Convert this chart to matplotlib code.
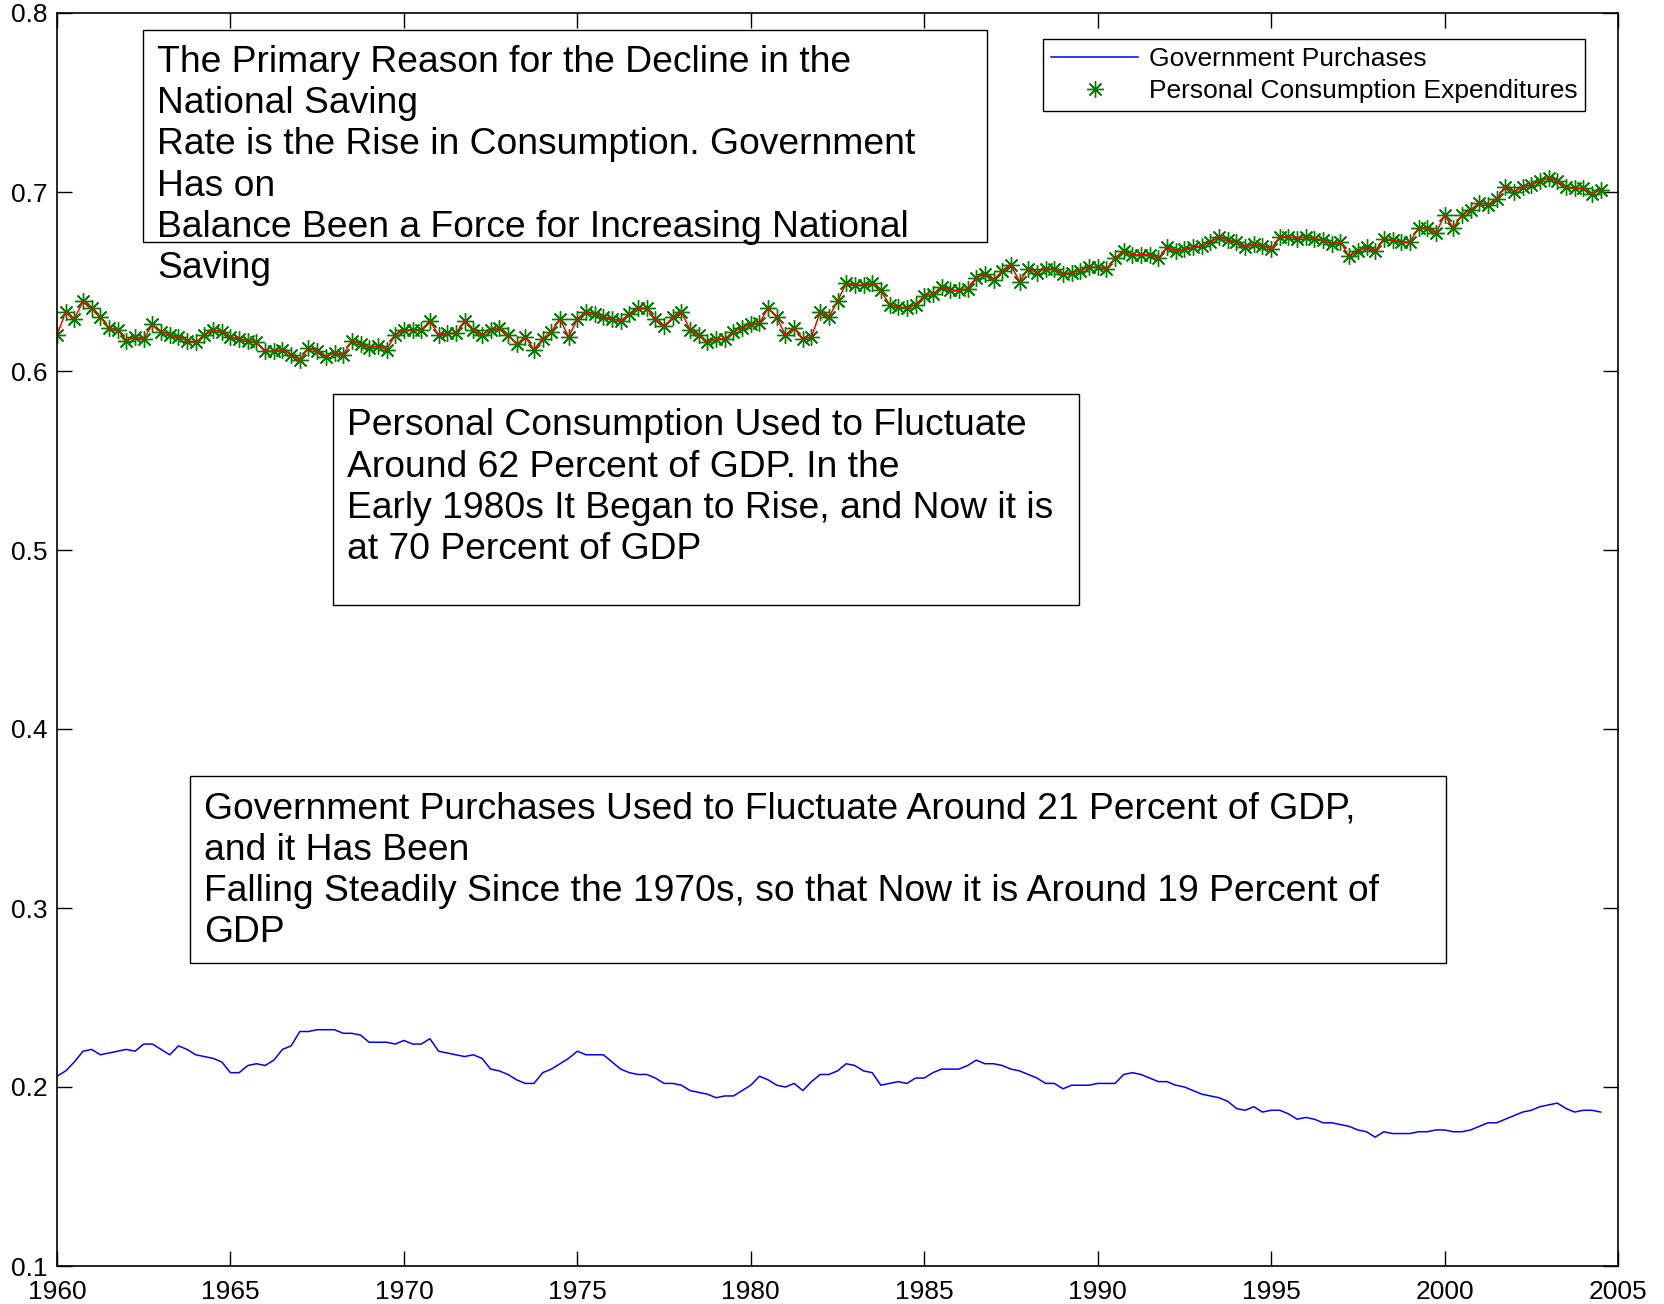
import matplotlib
matplotlib.use("Agg")
import matplotlib.pyplot as plt
from matplotlib.lines import Line2D
from matplotlib.patches import Rectangle
import numpy as np

# quarterly shares of GDP, 1960Q1 - 2004Q3
quarters = np.arange(1960, 2004.5 + 0.01, 0.25)

consumption = [
    0.620, 0.633, 0.629, 0.639, 0.635, 0.630, 0.624, 0.623, 0.617, 0.619,
    0.618, 0.626, 0.622, 0.620, 0.619, 0.617, 0.616, 0.620, 0.623, 0.622,
    0.619, 0.618, 0.617, 0.616, 0.611, 0.611, 0.612, 0.609, 0.606, 0.613,
    0.611, 0.608, 0.610, 0.609, 0.617, 0.615, 0.613, 0.614, 0.612, 0.620,
    0.623, 0.623, 0.623, 0.628, 0.620, 0.621, 0.621, 0.628, 0.623, 0.620,
    0.623, 0.624, 0.620, 0.615, 0.619, 0.612, 0.618, 0.622, 0.629, 0.619,
    0.629, 0.633, 0.632, 0.630, 0.629, 0.628, 0.632, 0.635, 0.635, 0.629,
    0.625, 0.630, 0.633, 0.623, 0.620, 0.616, 0.618, 0.618, 0.622, 0.624,
    0.626, 0.627, 0.635, 0.630, 0.620, 0.624, 0.618, 0.619, 0.633, 0.630,
    0.639, 0.649, 0.648, 0.648, 0.649, 0.645, 0.637, 0.636, 0.635, 0.637,
    0.642, 0.643, 0.647, 0.645, 0.645, 0.646, 0.652, 0.654, 0.651, 0.656,
    0.659, 0.650, 0.657, 0.655, 0.657, 0.657, 0.654, 0.655, 0.656, 0.658,
    0.658, 0.657, 0.663, 0.667, 0.665, 0.665, 0.665, 0.663, 0.669, 0.667,
    0.668, 0.669, 0.670, 0.672, 0.675, 0.673, 0.672, 0.669, 0.671, 0.670,
    0.668, 0.675, 0.675, 0.674, 0.675, 0.674, 0.673, 0.671, 0.672, 0.664,
    0.667, 0.669, 0.667, 0.674, 0.673, 0.672, 0.672, 0.680, 0.680, 0.677,
    0.687, 0.680, 0.687, 0.690, 0.694, 0.693, 0.696, 0.703, 0.700, 0.703,
    0.704, 0.706, 0.708, 0.706, 0.703, 0.702, 0.702, 0.699, 0.701,
]

government = [
    0.206, 0.209, 0.214, 0.220, 0.221, 0.218, 0.219, 0.220, 0.221, 0.220,
    0.224, 0.224, 0.221, 0.218, 0.223, 0.221, 0.218, 0.217, 0.216, 0.214,
    0.208, 0.208, 0.212, 0.213, 0.212, 0.215, 0.221, 0.223, 0.231, 0.231,
    0.232, 0.232, 0.232, 0.230, 0.230, 0.229, 0.225, 0.225, 0.225, 0.224,
    0.226, 0.224, 0.224, 0.227, 0.220, 0.219, 0.218, 0.217, 0.218, 0.216,
    0.210, 0.209, 0.207, 0.204, 0.202, 0.202, 0.208, 0.210, 0.213, 0.216,
    0.220, 0.218, 0.218, 0.218, 0.214, 0.210, 0.208, 0.207, 0.207, 0.205,
    0.202, 0.202, 0.201, 0.198, 0.197, 0.196, 0.194, 0.195, 0.195, 0.198,
    0.201, 0.206, 0.204, 0.201, 0.200, 0.202, 0.198, 0.203, 0.207, 0.207,
    0.209, 0.213, 0.212, 0.209, 0.208, 0.201, 0.202, 0.203, 0.202, 0.205,
    0.205, 0.208, 0.210, 0.210, 0.210, 0.212, 0.215, 0.213, 0.213, 0.212,
    0.210, 0.209, 0.207, 0.205, 0.202, 0.202, 0.199, 0.201, 0.201, 0.201,
    0.202, 0.202, 0.202, 0.207, 0.208, 0.207, 0.205, 0.203, 0.203, 0.201,
    0.200, 0.198, 0.196, 0.195, 0.194, 0.192, 0.188, 0.187, 0.189, 0.186,
    0.187, 0.187, 0.185, 0.182, 0.183, 0.182, 0.180, 0.180, 0.179, 0.178,
    0.176, 0.175, 0.172, 0.175, 0.174, 0.174, 0.174, 0.175, 0.175, 0.176,
    0.176, 0.175, 0.175, 0.176, 0.178, 0.180, 0.180, 0.182, 0.184, 0.186,
    0.187, 0.189, 0.190, 0.191, 0.188, 0.186, 0.187, 0.187, 0.186,
]

x_ticks = list(range(1960, 2006, 5))
y_ticks = [0.1, 0.2, 0.3, 0.4, 0.5, 0.6, 0.7, 0.8]

note_top = ("The Primary Reason for the Decline in the\nNational Saving\n"
            "Rate is the Rise in Consumption. Government\nHas on\n"
            "Balance Been a Force for Increasing National\nSaving")
note_mid = ("Personal Consumption Used to Fluctuate\nAround 62 Percent of GDP. In the\n"
            "Early 1980s It Began to Rise, and Now it is\nat 70 Percent of GDP")
note_low = ("Government Purchases Used to Fluctuate Around 21 Percent of GDP,\n"
            "and it Has Been\nFalling Steadily Since the 1970s, so that Now it is "
            "Around 19 Percent of\nGDP")

plt.rcParams["font.family"] = ["Liberation Sans", "DejaVu Sans"]

W, H = 1664, 1304
fig = plt.figure(figsize=(W / 100, H / 100), dpi=100, facecolor="white")
ax = fig.add_axes([57 / W, 1 - 1266 / H, (1618 - 57) / W, (1266 - 13) / H])

green = "#008000"
asterisk = (8, 2, 0)

ax.plot(quarters, government, color="#0000ff", lw=1.1)
ax.plot(quarters, consumption, ls="none", marker=asterisk, ms=12, mew=1.0,
        color=green)
ax.plot(quarters, consumption, color="#ff0000", lw=1.1)

ax.set_xlim(1960, 2005)
ax.set_ylim(0.1, 0.8)
ax.set_xticks(x_ticks)
ax.set_yticks(y_ticks)
ax.set_yticklabels([f"{v:g}" for v in y_ticks])
ax.tick_params(direction="in", length=11, width=1, top=True, right=True,
               labelsize=19, colors="black")
ax.tick_params(axis="x", pad=10)
ax.tick_params(axis="y", pad=7)
for s in ax.spines.values():
    s.set_linewidth(1.2)

handles = [Line2D([], [], color="#0000ff", lw=1.1),
           Line2D([], [], ls="none", marker=asterisk, ms=12, mew=1.0, color=green)]
leg = ax.legend(handles, ["Government Purchases", "Personal Consumption Expenditures"],
                loc="upper right", bbox_to_anchor=(0.979, 0.979), borderaxespad=0,
                fancybox=False, framealpha=1, edgecolor="black", fontsize=19,
                handlelength=3.3, handletextpad=0.4, labelspacing=0.3,
                borderpad=0.3)
leg.get_frame().set_linewidth(1.0)


def fx(x):
    return x / W


def fy(y):
    return 1 - y / H


# annotation boxes (pixel extents of the original figure)
for (x0, y0, x1, y1) in [(143, 30, 987, 242), (333, 394, 1079, 605), (190, 776, 1446, 963)]:
    fig.add_artist(Rectangle((fx(x0), fy(y1)), fx(x1 - x0), (y1 - y0) / H,
                             transform=fig.transFigure, fill=False,
                             edgecolor="black", lw=1.0))

# baseline given for the last line of each note
for txt, x, y in [(note_top, 157, 278), (note_mid, 347, 559), (note_low, 204, 942)]:
    fig.text(fx(x), fy(y), txt, fontsize=26.8, va="baseline", ha="left",
             linespacing=1.23)

fig.savefig("out.png", dpi=100, facecolor="white")
